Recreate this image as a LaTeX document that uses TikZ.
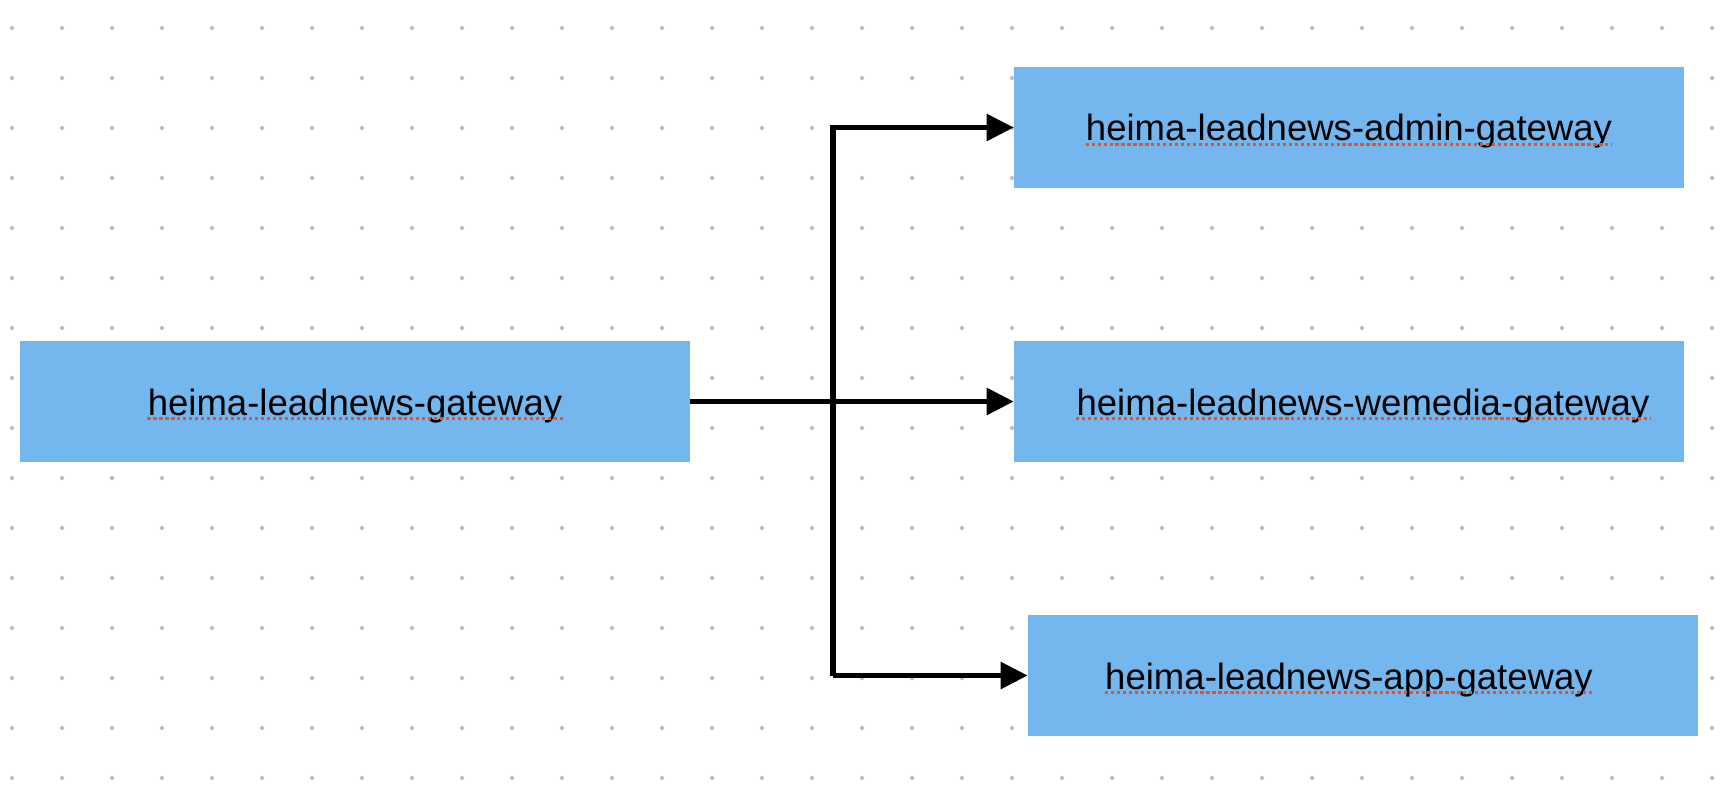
\documentclass[tikz,border=0pt]{standalone}
\usepackage{fontspec}
\setmainfont{Liberation Sans}
\usetikzlibrary{arrows.meta}

\definecolor{boxblue}{RGB}{116,183,239}
\definecolor{dotgray}{RGB}{185,185,185}
\definecolor{squigred}{RGB}{222,84,50}

\tikzset{
  gbox/.style={fill=boxblue, draw=none, minimum width=13.4cm, minimum height=2.42cm, inner sep=0pt},
  gtext/.style={anchor=base, inner sep=0pt, font=\fontsize{20.8}{24}\selectfont},
  squig/.style={squigred, line width=1.7pt, dash pattern=on 1.8pt off 1.6pt},
  conn/.style={line width=3.2pt, line join=miter, -{Triangle[length=0.54cm,width=0.52cm]}},
}

\begin{document}
\begin{tikzpicture}[x=0.02cm, y=-0.02cm]
\useasboundingbox (0,0) rectangle (1730,790);

% dotted background
\foreach \i in {0,...,34} {
  \foreach \j in {0,...,15} {
    \fill[dotgray] (12+50*\i, 28+50*\j) circle (1.15pt);
  }
}

% gateway boxes
\node[gbox] (gw) at (355,401.5) {};
\node[gbox] (admin) at (1349,127.5) {};
\node[gbox] (wemedia) at (1349,401.5) {};
\node[gbox] (app) at (1363,675.5) {};

% labels
\node[gtext] (gwtext) at (355,415) {heima-leadnews-gateway};
\node[gtext] (admintext) at (1349,141) {heima-leadnews-admin-gateway};
\node[gtext] (wemediatext) at (1363,415) {heima-leadnews-wemedia-gateway};
\node[gtext] (apptext) at (1349,689) {heima-leadnews-app-gateway};

% spell-check underline
\foreach \t in {gwtext,admintext,wemediatext,apptext} {
  \draw[squig] ([yshift=-1.8pt]\t.base west) -- ([yshift=-1.8pt]\t.base east);
}

% connectors
\coordinate (split) at (833,401.5);
\draw[conn] (gw.east) -- (wemedia.west);
\draw[conn] (split |- app.west) -- (split |- admin.west) -- (admin.west);
\draw[conn] (split |- app.west) -- (app.west);
\end{tikzpicture}
\end{document}
